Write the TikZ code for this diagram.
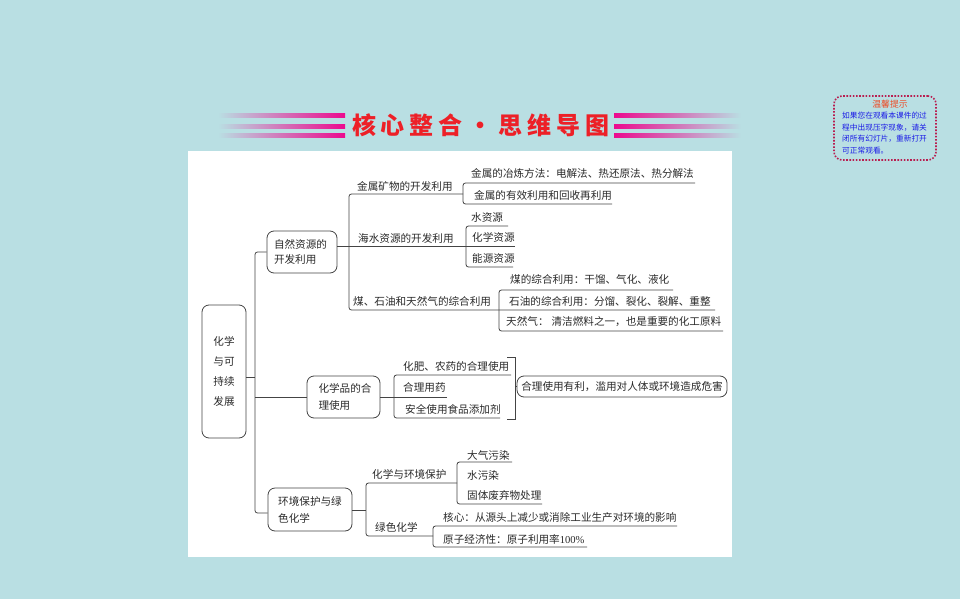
\documentclass[tikz,border=0pt]{standalone}
\usepackage{fontspec}
\setmainfont{Noto Sans CJK SC}
\newfontfamily\titlefont[LetterSpace=20]{Noto Sans CJK SC}
\newfontfamily\latinnum{Liberation Serif}
\definecolor{bgc}{HTML}{B9DFE3}
\definecolor{barc}{HTML}{EC0A8E}
\definecolor{barm}{HTML}{D070B4}
\definecolor{inkc}{HTML}{2A2A2A}
\definecolor{linec}{HTML}{444444}
\definecolor{titlec}{HTML}{ED2027}
\definecolor{notec}{HTML}{B81E50}
\definecolor{notet}{HTML}{1B1BE6}
\definecolor{noteh}{HTML}{EE4A24}
\tikzset{
  txt/.style={anchor=west,inner sep=0pt,text=inkc,font=\fontsize{10.6}{15}\selectfont},
  link/.style={draw=linec,line width=0.8pt,rounded corners=2.5pt},
  rbox/.style={draw=linec,line width=0.8pt,rounded corners=7pt,fill=white,inner sep=0pt,text=inkc,align=left,font=\fontsize{10.6}{17}\selectfont},
  barl/.style={left color=bgc,middle color=barm,right color=barc},
  barr/.style={left color=barc,middle color=barm,right color=bgc},
  notel/.style={inner sep=0pt,text=notet,font=\fontsize{7.7}{12}\selectfont}
}
% name, text x, text y, text, line x0, line y, line x1
\newcommand\leaf[7]{%
  \node[txt] (#1) at (#2,#3) {#4};
  \coordinate (#1-l) at (#5,#6);
  \coordinate (#1-r) at (#7,#6);
}
\begin{document}
\begin{tikzpicture}[x=1pt,y=-1pt]
\useasboundingbox (0,0) rectangle (960,599);
\fill[bgc] (0,0) rectangle (960,599);
\fill[white] (188,151) rectangle (732,557);
% title bars
\foreach \yy in {116,126,135.6}{
  \shade[barl] (218,\yy-2) rectangle (345,\yy+2);
  \shade[barr] (614,\yy-2) rectangle (741,\yy+2);
}
\node[anchor=west,inner sep=0pt,text=titlec,font=\titlefont\bfseries\fontsize{24}{24}\selectfont] (title) at (352,125) {核心整合\makebox[36pt][c]{·}思维导图};
% notice
\node[draw=notec,line width=1.6pt,dash pattern=on 1.6pt off 1.6pt,rounded corners=8pt,fill=bgc,minimum width=102pt,minimum height=64pt,inner sep=0pt] (note) at (885,128) {};
\node[inner sep=0pt,text=noteh,font=\fontsize{8.8}{9}\selectfont] (notet) at (890,104) {温馨提示};
\node[notel,anchor=west] (n1) at (842,116) {如果您在观看本课件的过};
\node[notel,anchor=west] (n2) at (842,128) {程中出现压字现象，请关};
\node[notel,anchor=west] (n3) at (842,139) {闭所有幻灯片，重新打开};
\node[notel,anchor=west] (n4) at (842,151) {可正常观看。};
% main boxes
\node[rbox,minimum width=44pt,minimum height=133pt,align=center,font=\fontsize{10.6}{20}\selectfont] (root) at (224,371.5) {化学\\与可\\持续\\发展};
\node[rbox,minimum width=70pt,minimum height=42pt,text width=56pt,font=\fontsize{10.6}{15}\selectfont] (box1) at (302,252) {自然资源的\\开发利用};
\node[rbox,minimum width=73pt,minimum height=42pt] (box2) at (343.5,397) {\hspace*{3pt}化学品的合\\\hspace*{3pt}理使用};
\node[rbox,minimum width=84pt,minimum height=43pt] (box3) at (310,509.5) {环境保护与绿\\色化学};
% trunk
\coordinate (t1) at (255,252);
\coordinate (t2) at (255,377);
\coordinate (t3) at (255,513);
\coordinate (t4) at (255,397);
\draw[link] (t1 -| box1.west) -- (t1) -- (t3) -- (t3 -| box3.west);
\draw[link] (t2 -| root.east) -- (t2);
\draw[link] (t4) -- (t4 -| box2.west);
% natural resources
\leaf{m1}{357}{186}{金属矿物的开发利用}{349}{194}{463}
\leaf{m2}{358}{238}{海水资源的开发利用}{349}{246.5}{515}
\leaf{m3}{353}{301}{煤、石油和天然气的综合利用}{349}{310}{715}
\draw[link] (m1-r) -- (m1-l) -- (m3-l) -- (m3-r);
\draw[link] (m2-r) -- (m2-r -| box1.east);
\leaf{a1}{471}{173}{金属的冶炼方法：电解法、热还原法、热分解法}{463}{183}{695}
\leaf{a2}{474}{195}{金属的有效利用和回收再利用}{463}{204}{612}
\draw[link] (a1-r) -- (a1-l) -- (a2-l) -- (a2-r);
\leaf{b1}{471}{217}{水资源}{466}{226}{508}
\leaf{b2}{472}{237}{化学资源}{466}{246.5}{515}
\leaf{b3}{472}{258}{能源资源}{466}{267}{513}
\draw[link] (b1-r) -- (b1-l) -- (b3-l) -- (b3-r);
\leaf{c1}{510}{279}{煤的综合利用：干馏、气化、液化}{499}{290}{673}
\leaf{c2}{509}{301}{石油的综合利用：分馏、裂化、裂解、重整}{499}{310}{715}
\leaf{c3}{506}{322}{天然气：\hspace{3pt}清洁燃料之一，也是重要的化工原料}{499}{331}{723}
\draw[link] (c1-r) -- (c1-l) -- (c3-l) -- (c3-r);
% chemicals
\leaf{d1}{403}{366}{化肥、农药的合理使用}{394}{375}{511}
\leaf{d2}{403}{387}{合理用药}{394}{397}{447}
\leaf{d3}{405}{409}{安全使用食品添加剂}{394}{418}{500}
\draw[link] (d1-r) -- (d1-l) -- (d3-l) -- (d3-r);
\draw[link] (d2-r) -- (d2-r -| box2.east);
\node[rbox,minimum width=210pt,minimum height=21pt,align=center] (sum) at (622,386.5) {合理使用有利，滥用对人体或环境造成危害};
\coordinate (k1) at (507,357);
\coordinate (k2) at (515.5,357);
\coordinate (k3) at (515.5,419);
\coordinate (k4) at (507,419);
\draw[draw=linec,line width=0.8pt] (k1) -- (k2) -- (k3) -- (k4);
\draw[draw=linec,line width=0.8pt] (k2 |- sum.west) -- (sum.west);
% environment
\leaf{e1}{372}{474}{化学与环境保护}{366}{483}{457}
\leaf{e2}{375}{527}{绿色化学}{366}{536}{433}
\draw[link] (e1-r) -- (e1-l) -- (e2-l) -- (e2-r);
\coordinate (e0) at (366,510);
\draw[link] (e0 -| box3.east) -- (e0);
\leaf{f1}{467}{455}{大气污染}{457}{462}{512}
\leaf{f2}{467}{475}{水污染}{457}{483}{505}
\leaf{f3}{467}{495}{固体废弃物处理}{457}{504}{542}
\draw[link] (f1-r) -- (f1-l) -- (f3-l) -- (f3-r);
\leaf{g1}{443}{517}{核心：从源头上减少或消除工业生产对环境的影响}{433}{526}{677}
\leaf{g2}{443}{539}{原子经济性：原子利用率{\latinnum 100\%}}{433}{547}{587}
\draw[link] (g1-r) -- (g1-l) -- (g2-l) -- (g2-r);
\end{tikzpicture}
\end{document}
